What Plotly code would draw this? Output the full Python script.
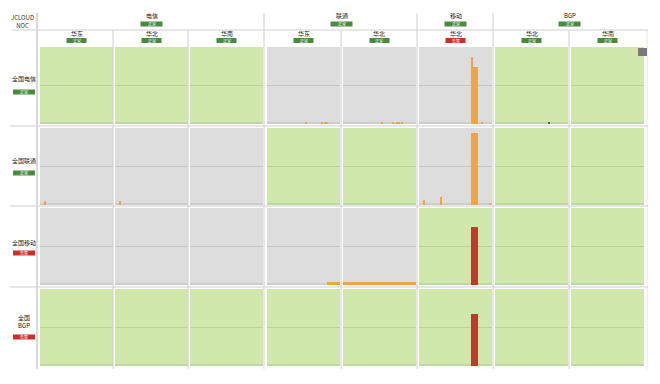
import plotly.graph_objects as go

W, H = 660, 384

# ---------------- data ----------------
group_names = ["电信", "联通", "移动", "BGP"]
group_status = ["ok", "ok", "ok", "ok"]
col_group = ["电信", "电信", "电信", "联通", "联通", "移动", "BGP", "BGP"]
col_region = ["华东", "华北", "华南", "华东", "华北", "华北", "华北", "华南"]
col_status = ["ok", "ok", "ok", "ok", "ok", "alarm", "ok", "ok"]
row_names = ["全国电信", "全国联通", "全国移动", "全国<br>BGP"]
row_status = ["ok", "ok", "alarm", "alarm"]
# 1 = reachable (green cell), 0 = not applicable (grey cell)
cell_reach = [
    [1, 1, 1, 0, 0, 0, 1, 1],
    [0, 0, 0, 1, 1, 0, 1, 1],
    [0, 0, 0, 0, 0, 1, 1, 1],
    [1, 1, 1, 1, 1, 1, 1, 1],
]
n_slots = 60

bar_row = [0, 0, 0, 0, 1, 1, 1, 2, 2, 2, 3]
bar_col = [3, 4, 5, 6, 0, 1, 5, 3, 4, 5, 5]
bar_slots = [
    [32, 45, 47, 49],
    [32, 41, 44, 46, 48],
    [43, 44, 45, 46, 47, 51],
    [44],
    [4],
    [4],
    [4, 18, 43, 44, 45, 46, 47, 58],
    [50, 51, 52, 53, 54, 55, 56, 57, 58, 59],
    [0, 1, 2, 3, 4, 5, 6, 7, 8, 9, 10, 11, 12, 13, 14, 15, 16, 17, 18, 19,
     20, 21, 22, 23, 24, 25, 26, 27, 28, 29, 30, 31, 32, 33, 34, 35, 36, 37, 38, 39,
     40, 41, 42, 43, 44, 45, 46, 47, 48, 49, 50, 51, 52, 53, 54, 55, 56, 57, 58, 59],
    [43, 44, 45, 46, 47],
    [43, 44, 45, 46, 47],
]
bar_values = [
    [2, 2, 3, 2],
    [2, 2, 2, 3, 3],
    [87, 74, 74, 74, 74, 2],
    [3],
    [5],
    [5],
    [6, 10, 93, 93, 93, 93, 93, 2],
    [4, 4, 4, 4, 4, 4, 4, 4, 4, 4],
    [4, 4, 4, 4, 4, 4, 4, 4, 4, 4, 4, 4, 4, 4, 4, 4, 4, 4, 4, 4,
     4, 4, 4, 4, 4, 4, 4, 4, 4, 4, 4, 4, 4, 4, 4, 4, 4, 4, 4, 4,
     4, 4, 4, 4, 4, 4, 4, 4, 4, 4, 4, 4, 4, 4, 4, 4, 4, 4, 4, 4],
    [75, 75, 75, 75, 75],
    [67, 67, 67, 67, 67],
]
bar_level = ["warn", "warn", "warn", "good", "warn", "warn", "warn",
             "warn", "warn", "crit", "crit"]
badge_text = {"ok": "正常", "alarm": "告警"}

# ---------------- geometry & style ----------------
col_x0 = [40, 115, 190, 267, 343, 419, 495, 571]
cell_w = 73
row_y0 = [47, 128, 208, 289]
cell_h = 77

bg_col = {1: "#d0e8ac", 0: "#dddddd"}
grid_col = {1: "#b9d49b", 0: "#c6c6c6"}
base_col = {1: "#bdd8a0", 0: "#cdcdcd"}
level_color = {"warn": "#f0a444", "crit": "#c0392b", "good": "#3f7a35"}
badge_color = {"ok": "#4a8a3c", "alarm": "#c8302c"}
line_col = "#cfcfcf"
FONT = "Noto Sans CJK SC"


def px(x):
    return x / W


def py(y):
    return 1 - y / H


fig = go.Figure()
layout = {}
shapes = []
annotations = []

for k in range(32):
    r, c = divmod(k, 8)
    sfx = "" if k == 0 else str(k + 1)
    x0, y0 = col_x0[c], row_y0[r]
    reach = cell_reach[r][c]
    layout["xaxis" + sfx] = dict(domain=[px(x0), px(x0 + cell_w)],
                                 range=[-0.5, n_slots - 0.5], visible=False,
                                 anchor="y" + sfx, fixedrange=True)
    layout["yaxis" + sfx] = dict(domain=[py(y0 + cell_h), py(y0)],
                                 range=[0, 100], tickvals=[50],
                                 showticklabels=False, showgrid=True,
                                 gridcolor=grid_col[reach], gridwidth=1,
                                 zeroline=False, showline=False, ticks="",
                                 anchor="x" + sfx, fixedrange=True)
    fig.add_trace(go.Bar(x=[], y=[], xaxis="x" + sfx, yaxis="y" + sfx,
                         showlegend=False, hoverinfo="skip"))
    shapes.append(dict(type="rect", xref="paper", yref="paper",
                       x0=px(x0), x1=px(x0 + cell_w), y0=py(y0 + cell_h), y1=py(y0),
                       fillcolor=bg_col[reach], line=dict(width=0), layer="below"))
    shapes.append(dict(type="rect", xref="paper", yref="paper",
                       x0=px(x0), x1=px(x0 + cell_w), y0=py(y0 + cell_h),
                       y1=py(y0 + cell_h - 2),
                       fillcolor=base_col[reach], line=dict(width=0), layer="below"))

for i in range(len(bar_row)):
    k = bar_row[i] * 8 + bar_col[i]
    sfx = "" if k == 0 else str(k + 1)
    fig.add_trace(go.Bar(x=bar_slots[i], y=bar_values[i], width=1,
                         marker=dict(color=level_color[bar_level[i]], line=dict(width=0)),
                         xaxis="x" + sfx, yaxis="y" + sfx, showlegend=False))


# table lines
def hline(y, xa, xb, color=line_col):
    shapes.append(dict(type="line", xref="paper", yref="paper", x0=px(xa), x1=px(xb),
                       y0=py(y), y1=py(y), line=dict(color=color, width=1)))


def vline(x, ya, yb, color=line_col):
    shapes.append(dict(type="line", xref="paper", yref="paper", x0=px(x), x1=px(x),
                       y0=py(ya), y1=py(yb), line=dict(color=color, width=1)))


vline(37, 13, 369, "#b5b5b5")
for gx in [264, 417, 493]:
    vline(gx, 13, 369)
for gx in [113, 188, 341, 569]:
    vline(gx, 30, 369)
vline(647, 30, 369, "#e6e6e6")
hline(30, 12, 648)
for gy in [126, 206, 287]:
    hline(gy, 10, 648)


def text(x, y, s, size=6, color="#222222"):
    annotations.append(dict(x=px(x), y=py(y), xref="paper", yref="paper", text=s,
                            showarrow=False, xanchor="center", yanchor="middle",
                            font=dict(family=FONT, size=size, color=color)))


def badge(x, y, status, w=22, h=5):
    shapes.append(dict(type="rect", xref="paper", yref="paper",
                       x0=px(x - w / 2), x1=px(x + w / 2), y0=py(y + h / 2), y1=py(y - h / 2),
                       fillcolor=badge_color[status], line=dict(width=0)))
    text(x, y, badge_text[status], size=4, color="white")


text(22, 21, "JCLOUD<br>NOC", size=6, color="#333333")

for gi, g in enumerate(group_names):
    cols = [c for c in range(8) if col_group[c] == g]
    cx = (col_x0[cols[0]] + col_x0[cols[-1]] + cell_w) / 2
    text(cx, 16, g)
    badge(cx, 24, group_status[gi])

for c in range(8):
    cx = col_x0[c] + cell_w / 2
    text(cx, 33.5, col_region[c])
    badge(cx, 40.5, col_status[c], w=20)

row_label_y = [79, 161, 242, 321]
row_badge_y = [92, 173, 253, 337]
for r in range(4):
    text(24, row_label_y[r], row_names[r])
    badge(24, row_badge_y[r], row_status[r])

# small button at top-right
shapes.append(dict(type="rect", xref="paper", yref="paper", x0=px(638), x1=px(647),
                   y0=py(56), y1=py(48), fillcolor="#7a7a7a", line=dict(width=0)))

fig.update_layout(**layout)
fig.update_layout(width=W, height=H, margin=dict(l=0, r=0, t=0, b=0),
                  paper_bgcolor="white", plot_bgcolor="rgba(0,0,0,0)",
                  bargap=0, barmode="overlay", showlegend=False,
                  shapes=shapes, annotations=annotations,
                  font=dict(family=FONT))

fig.write_html("out.html", config={"displayModeBar": False},
               post_script="document.body.style.margin='0';document.body.style.padding='0';")
